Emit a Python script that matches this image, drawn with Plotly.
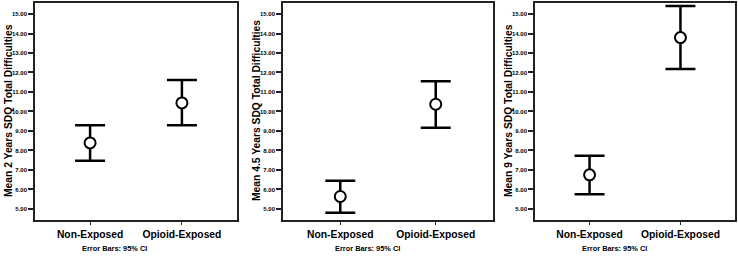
import plotly.graph_objects as go

categories = ["Non-Exposed", "Opioid-Exposed"]
y_titles = [
    "Mean 2 Years SDQ Total Difficulties",
    "Mean 4.5 Years SDQ Total Difficulties",
    "Mean 9 Years SDQ Total Difficulties",
]
means_2y = [8.39, 10.44]
lower_2y = [7.47, 9.29]
upper_2y = [9.30, 11.61]
means_45y = [5.64, 10.37]
lower_45y = [4.81, 9.16]
upper_45y = [6.45, 11.55]
means_9y = [6.75, 13.79]
lower_9y = [5.75, 12.18]
upper_9y = [7.73, 15.41]
y_tick_vals = [5, 6, 7, 8, 9, 10, 11, 12, 13, 14, 15]
y_tick_text = ["5.00", "6.00", "7.00", "8.00", "9.00", "10.00", "11.00",
               "12.00", "13.00", "14.00", "15.00"]
footnote = "Error Bars: 95% CI"

W, H = 738, 257
panels = [
    (means_2y, lower_2y, upper_2y, (35, 237)),
    (means_45y, lower_45y, upper_45y, (283, 493)),
    (means_9y, lower_9y, upper_9y, (535, 735)),
]
ydom = [1 - 219.5 / H, 1 - 2.5 / H]
FONT = "Liberation Sans, Arial, sans-serif"

fig = go.Figure()
layout = dict(
    width=W, height=H, margin=dict(l=0, r=0, t=0, b=0, autoexpand=False),
    paper_bgcolor="white", plot_bgcolor="white", showlegend=False,
    font=dict(family=FONT, color="black"),
)
annotations = []
for i, (m, lo, up, (xl, xr)) in enumerate(panels):
    ax = "" if i == 0 else str(i + 1)
    fig.add_trace(go.Scatter(
        x=categories, y=m, mode="markers",
        xaxis="x" + ax, yaxis="y" + ax,
        marker=dict(symbol="circle", size=11, color="white",
                    line=dict(color="black", width=2)),
        error_y=dict(type="data", symmetric=False,
                     array=[u - v for u, v in zip(up, m)],
                     arrayminus=[v - l for v, l in zip(m, lo)],
                     color="black", thickness=2.5, width=15),
        hoverinfo="skip",
    ))
    layout["xaxis" + ax] = dict(
        domain=[xl / W, xr / W], anchor="y" + ax, type="category",
        range=[-0.6, 1.6], showline=True, linecolor="#222", linewidth=1.5,
        mirror=True, ticks="outside", ticklen=4, tickwidth=1, tickcolor="#222",
        showgrid=False, zeroline=False, tickangle=0, automargin=False,
        tickfont=dict(family=FONT, size=10.3, color="black", weight="bold"),
    )
    layout["yaxis" + ax] = dict(
        domain=ydom, anchor="x" + ax, range=[4.46, 15.59],
        tickvals=y_tick_vals, ticktext=y_tick_text, tickangle=0,
        showline=True, linecolor="#222", linewidth=1.5, mirror=True,
        ticks="outside", ticklen=5, tickwidth=1.5, tickcolor="#222",
        showgrid=False, zeroline=False, automargin=False,
        tickfont=dict(family=FONT, size=6, color="black", weight="bold"),
    )
    annotations.append(dict(
        text="<b>" + y_titles[i] + "</b>", textangle=-90,
        xref="paper", yref="paper", x=(xl - 27) / W, y=(ydom[0] + ydom[1]) / 2,
        xanchor="center", yanchor="middle", showarrow=False,
        font=dict(family=FONT, size=10.3, color="black"),
    ))
    annotations.append(dict(
        text="<b>" + footnote + "</b>",
        xref="paper", yref="paper", x=((xl + xr) / 2 - 21) / W, y=1 - 248.5 / H,
        xanchor="center", yanchor="middle", showarrow=False,
        font=dict(family=FONT, size=7.4, color="black"),
    ))
layout["annotations"] = annotations
fig.update_layout(**layout)
fig.write_html("out.html", config={"displayModeBar": False},
               post_script="document.body.style.margin='0';")
